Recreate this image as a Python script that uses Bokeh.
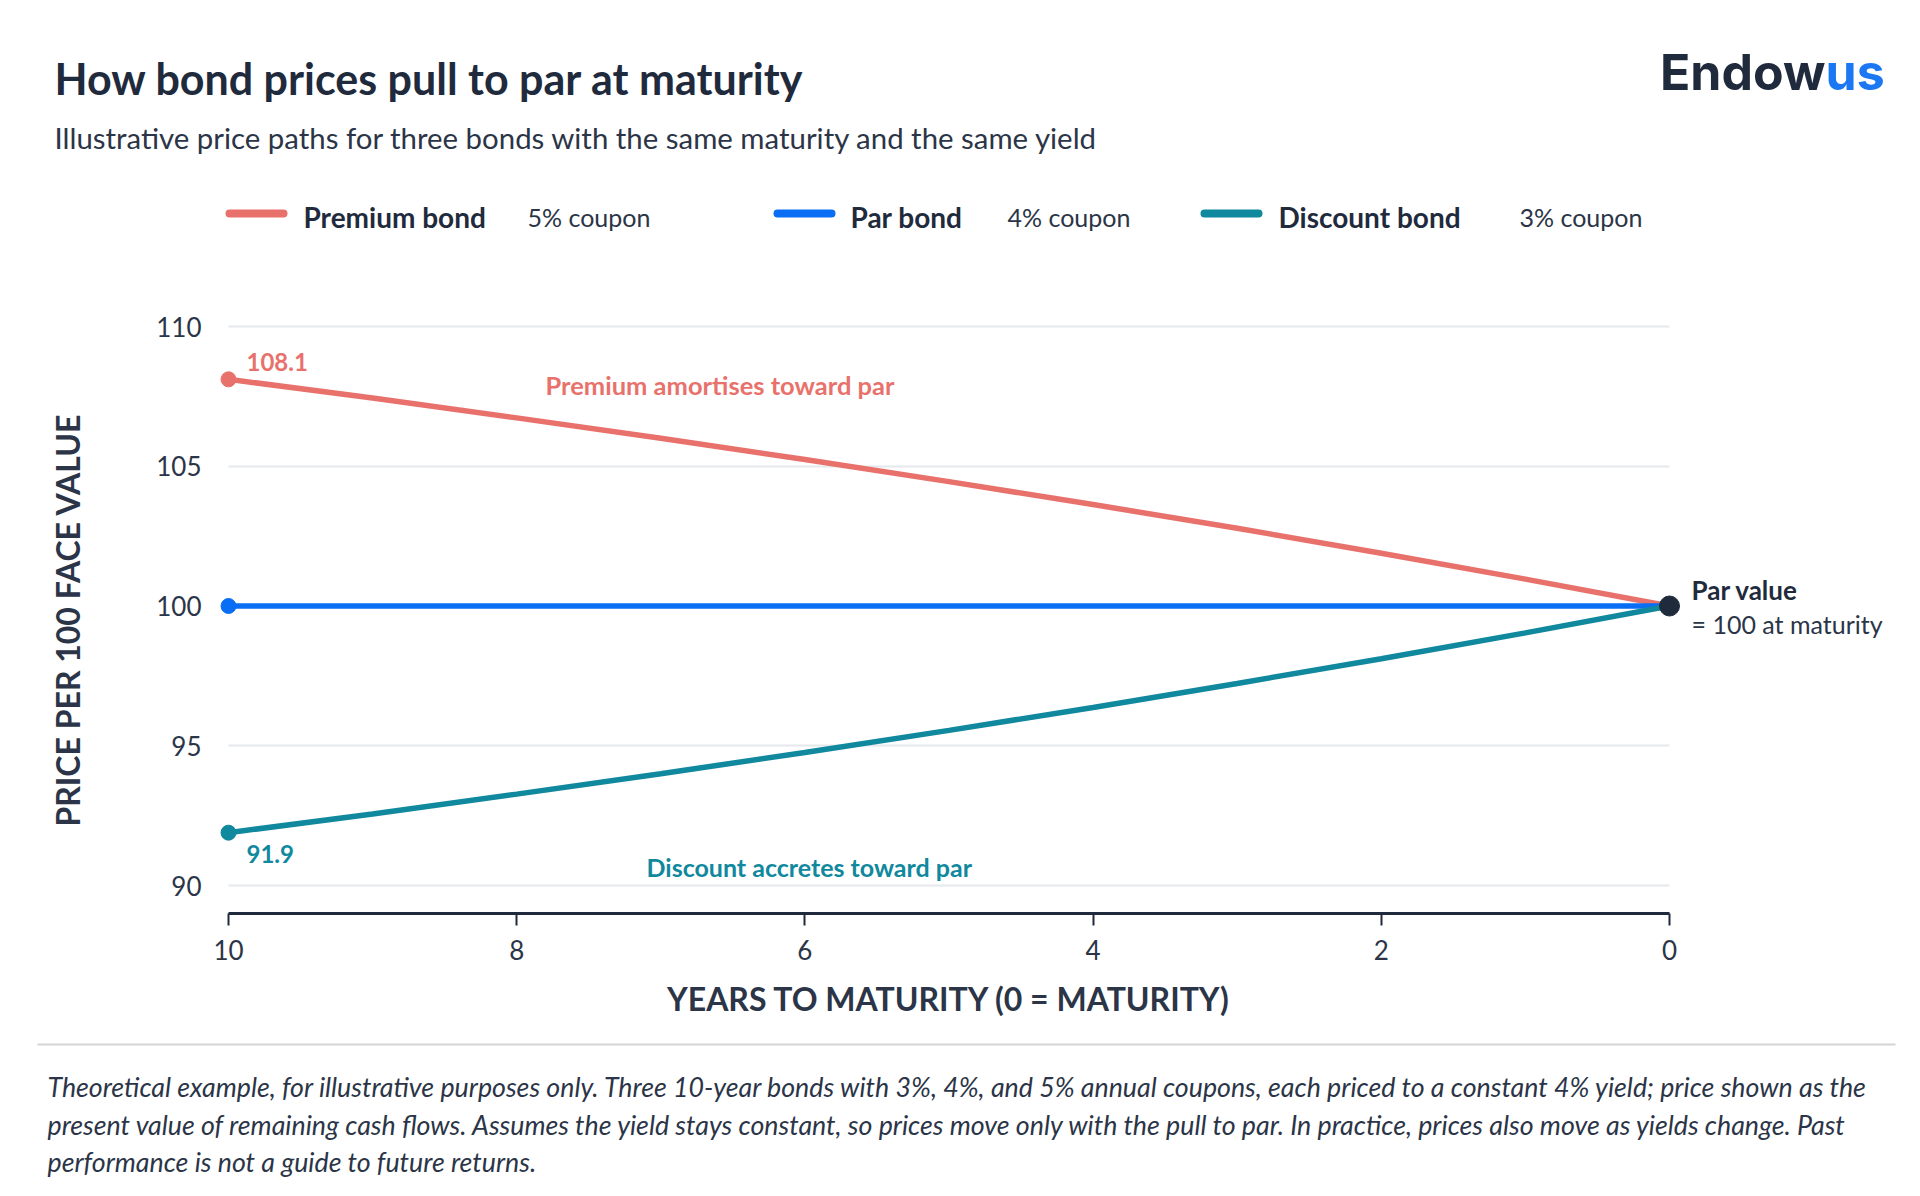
# Bond prices pulling to par at maturity
from bokeh.plotting import figure
from bokeh.models import Range1d, FixedTicker, Label, Arrow
from bokeh.embed import file_html
from bokeh.resources import INLINE

# data: price per 100 face value, by years to maturity
years = [10, 9, 8, 7, 6, 5, 4, 3, 2, 1, 0]
premium = [108.11, 107.44, 106.73, 106.00, 105.24, 104.45, 103.63, 102.78, 101.89, 100.96, 100.0]
par = [100.0, 100.0, 100.0, 100.0, 100.0, 100.0, 100.0, 100.0, 100.0, 100.0, 100.0]
discount = [91.89, 92.56, 93.27, 94.00, 94.76, 95.55, 96.37, 97.23, 98.11, 99.04, 100.0]

series_names = ["Premium bond", "Par bond", "Discount bond"]
coupons = ["5% coupon", "4% coupon", "3% coupon"]
x_ticks = [10, 8, 6, 4, 2, 0]
y_ticks = [90, 95, 100, 105, 110]

SALMON = "#E9716C"
BLUE = "#0A6EF5"
TEAL = "#10889D"
NAVY = "#1F2B3D"
TXT = "#2B3547"
FONT = "Lato"

W, H = 1904, 1180
# pixel scale of the chart: x=10 sits at 228px, y=110 at 326px
X10, SX = 228, 144.1
Y110, SY = 326, 27.95


# canvas pixel -> data coordinate (the frame fills the whole canvas)
def gx(px):
    return 10 - (px - X10) / SX


def gy(py):
    return 110 - (py - Y110) / SY


p = figure(width=W, height=H, x_range=Range1d(gx(0), gx(W)), y_range=Range1d(gy(H), gy(0)),
           output_backend="svg", toolbar_location=None, min_border=0)
p.outline_line_color = None
p.title.visible = False

# axes, pinned inside the frame
p.xaxis.fixed_location = gy(913)
p.xaxis.ticker = FixedTicker(ticks=x_ticks)
p.xaxis.bounds = (0, 10)
p.xaxis.axis_line_color = NAVY
p.xaxis.axis_line_width = 3
p.xaxis.major_tick_line_color = NAVY
p.xaxis.major_tick_line_width = 2
p.xaxis.major_tick_out = 12
p.xaxis.major_tick_in = 0
p.xaxis.minor_tick_line_color = None
p.xaxis.major_label_standoff = 14
p.xaxis.major_label_text_font = FONT
p.xaxis.major_label_text_font_size = "26px"
p.xaxis.major_label_text_color = TXT
p.xaxis.axis_label = "YEARS TO MATURITY (0 = MATURITY)"
p.xaxis.axis_label_text_font = FONT
p.xaxis.axis_label_text_font_style = "bold"
p.xaxis.axis_label_text_font_size = "32px"
p.xaxis.axis_label_text_color = TXT
p.xaxis.axis_label_standoff = 16

p.yaxis.fixed_location = gx(214)
p.yaxis.bounds = (88.5, 110.5)
p.yaxis.ticker = FixedTicker(ticks=y_ticks)
p.yaxis.axis_line_color = None
p.yaxis.major_tick_line_color = None
p.yaxis.minor_tick_line_color = None
p.yaxis.major_tick_out = 0
p.yaxis.major_tick_in = 0
p.yaxis.major_label_standoff = 13
p.yaxis.major_label_text_font = FONT
p.yaxis.major_label_text_font_size = "26px"
p.yaxis.major_label_text_color = TXT
p.yaxis.axis_label = "PRICE PER 100 FACE VALUE"
p.yaxis.axis_label_text_font = FONT
p.yaxis.axis_label_text_font_style = "bold"
p.yaxis.axis_label_text_font_size = "32px"
p.yaxis.axis_label_text_color = TXT
p.yaxis.axis_label_standoff = 66

p.xgrid.visible = False
p.ygrid.ticker = FixedTicker(ticks=y_ticks)
p.ygrid.bounds = (85, 115)
p.ygrid.grid_line_color = "#E5E8EC"
p.ygrid.grid_line_width = 2
p.ygrid.cross_bounds = (0, 10)

# price paths
colors = [SALMON, BLUE, TEAL]
for ys, c in zip([premium, par, discount], colors):
    p.line(years, ys, line_color=c, line_width=5.5)
    p.scatter([years[0]], [ys[0]], size=15, color=c)
p.scatter([years[-1]], [par[-1]], size=20, color=NAVY)


def label(x, y, text, color=TXT, size="25px", style="bold", align="left", font=FONT):
    p.add_layout(Label(x=x, y=y, text=text, text_color=color, text_font=font,
                       text_font_size=size, text_font_style=style,
                       text_align=align, text_baseline="middle"))


# annotations on the chart
label(gx(246), gy(361), f"{premium[0]:.1f}", SALMON, "24px")
label(gx(246), gy(853), f"{discount[0]:.1f}", TEAL, "24px")
label(gx(545), gy(384), "Premium amortises toward par", SALMON, "25.5px")
label(gx(646), gy(866), "Discount accretes toward par", TEAL)
label(gx(1691), gy(589), "Par value", NAVY, "26px", "bold")
label(gx(1691), gy(623), "= 100 at maturity", TXT, "25px", "normal")

# title, subtitle, logo
label(gx(54), gy(78), "How bond prices pull to par at maturity", NAVY, "43px", "bold")
label(gx(54), gy(136.5), "Illustrative price paths for three bonds with the same maturity and the same yield",
      TXT, "29.4px", "normal")
label(gx(1825), gy(71), "Endow", NAVY, "50px", "bold", "right", "Inter")
label(gx(1825), gy(71), "us", "#1C78F2", "50px", "bold", "left", "Inter")

# legend
sw_x = [229, 777, 1204]
name_x = [303, 850, 1278]
coupon_x = [527, 1007, 1519]
for i in range(3):
    p.add_layout(Arrow(x_start=gx(sw_x[i]), x_end=gx(sw_x[i] + 54), y_start=gy(213), y_end=gy(213),
                       end=None, line_color=colors[i], line_width=8, line_cap="round"))
    label(gx(name_x[i]), gy(216), series_names[i], NAVY, "28px", "bold")
    label(gx(coupon_x[i]), gy(216), coupons[i], TXT, "25px", "normal")

# separator and footnote
p.add_layout(Arrow(x_start=gx(37), x_end=gx(1895), y_start=gy(1044), y_end=gy(1044),
                   end=None, line_color="#D5D5D5", line_width=2))
notes = [
    "Theoretical example, for illustrative purposes only. Three 10-year bonds with 3%, 4%, and 5% annual coupons, "
    "each priced to a constant 4% yield; price shown as the",
    "present value of remaining cash flows. Assumes the yield stays constant, so prices move only with the pull to par. "
    "In practice, prices also move as yields change. Past",
    "performance is not a guide to future returns.",
]
for ln, ypx in zip(notes, [1086, 1124, 1161]):
    label(gx(47), gy(ypx), ln, TXT, "26.75px", "italic")

open("out.html", "w").write(file_html(p, INLINE))
